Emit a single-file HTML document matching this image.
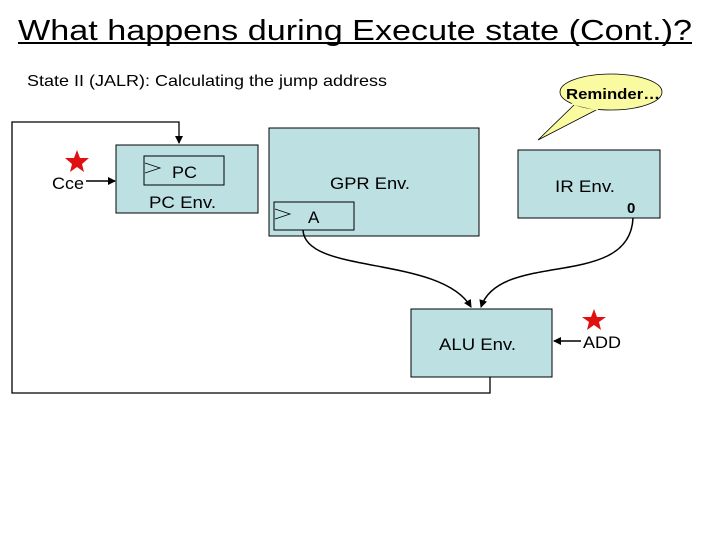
<!DOCTYPE html>
<html><head><style>body{margin:0;background:#fff}svg{display:block}text{font-family:"Liberation Sans",sans-serif;fill:#000}</style></head><body>
<svg width="720" height="540" viewBox="0 0 720 540">
<defs><marker id="ar" markerWidth="8" markerHeight="8" refX="7" refY="4" orient="auto" markerUnits="userSpaceOnUse"><path d="M0,0 L8,4 L0,8 z" fill="#000"/></marker></defs>
<text x="18" y="40" font-size="29" textLength="674" lengthAdjust="spacingAndGlyphs">What happens during Execute state (Cont.)?</text>
<line x1="18" y1="43" x2="692" y2="43" stroke="#000" stroke-width="2"/>
<text x="27" y="86" font-size="16" textLength="360" lengthAdjust="spacingAndGlyphs">State II (JALR): Calculating the jump address</text>
<polyline points="490,377 490,393 12,393 12,122 179,122 179,143" fill="none" stroke="#000" stroke-width="1.3" marker-end="url(#ar)"/>
<rect x="116" y="145" width="142" height="68" fill="#bde0e3" stroke="#000"/>
<rect x="144" y="156" width="80" height="29" fill="none" stroke="#000"/>
<polyline points="145,163 160,168 145,173" fill="none" stroke="#000" stroke-width="0.8"/>
<text x="172" y="178" font-size="17" textLength="25" lengthAdjust="spacingAndGlyphs">PC</text>
<text x="149" y="208" font-size="17" textLength="67" lengthAdjust="spacingAndGlyphs">PC Env.</text>
<polygon points="77,150 80,158 89,158 82,164 84,172 77,167 70,172 72,164 65,158 74,158" fill="#e01010"/>
<text x="52" y="189" font-size="17" textLength="32" lengthAdjust="spacingAndGlyphs">Cce</text>
<line x1="86" y1="181" x2="115" y2="181" stroke="#000" stroke-width="1.5" marker-end="url(#ar)"/>
<rect x="269" y="128" width="210" height="108" fill="#bde0e3" stroke="#000"/>
<text x="330" y="189" font-size="17" textLength="80" lengthAdjust="spacingAndGlyphs">GPR Env.</text>
<rect x="274" y="202" width="80" height="28" fill="none" stroke="#000"/>
<polyline points="275,209 290,214 275,219" fill="none" stroke="#000" stroke-width="0.8"/>
<text x="308" y="223" font-size="17">A</text>
<rect x="518" y="150" width="142" height="68" fill="#bde0e3" stroke="#000"/>
<text x="555" y="192" font-size="17" textLength="60" lengthAdjust="spacingAndGlyphs">IR Env.</text>
<text x="627" y="213" font-size="15" font-weight="bold">0</text>
<path d="M575,104 L538,140 L598,109 Z" fill="#fafaa0" stroke="#000" stroke-width="0.8"/>
<ellipse cx="611" cy="92" rx="51" ry="18" fill="#fafaa0" stroke="#000" stroke-width="0.8"/>
<path d="M572,103 L598,109" stroke="#fafaa0" stroke-width="3"/>
<text x="566" y="99" font-size="15" font-weight="bold" textLength="94" lengthAdjust="spacingAndGlyphs">Reminder…</text>
<rect x="411" y="309" width="141" height="68" fill="#bde0e3" stroke="#000"/>
<text x="439" y="350" font-size="17" textLength="77" lengthAdjust="spacingAndGlyphs">ALU Env.</text>
<path d="M303,230 C305,275 440,255 471,307" fill="none" stroke="#000" stroke-width="1.5" marker-end="url(#ar)"/>
<path d="M633,218 C630,290 500,250 481,307" fill="none" stroke="#000" stroke-width="1.5" marker-end="url(#ar)"/>
<polygon points="594,309 597,317 606,317 599,322 601,330 594,325 587,330 589,322 582,317 591,317" fill="#e01010"/>
<text x="583" y="348" font-size="17" textLength="38" lengthAdjust="spacingAndGlyphs">ADD</text>
<line x1="581" y1="341" x2="554" y2="341" stroke="#000" stroke-width="1.5" marker-end="url(#ar)"/>
</svg>
</body></html>
